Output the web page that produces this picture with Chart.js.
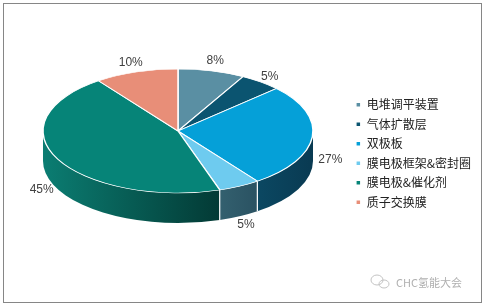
<!DOCTYPE html>
<html>
<head>
<meta charset="utf-8">
<script src="https://cdn.jsdelivr.net/npm/chart.js@4/dist/chart.umd.min.js"></script>
<style>
  html, body { margin: 0; padding: 0; background: #fff; }
  #wrap { width: 487px; height: 307px; position: relative; }
</style>
</head>
<body>
<div id="wrap"><canvas id="c" width="487" height="307"></canvas></div>
<script>
// Cost breakdown of a fuel cell stack
const categories = ['电堆调平装置', '气体扩散层', '双极板', '膜电极框架&密封圈', '膜电极&催化剂', '质子交换膜'];
const shares = [8, 5, 27, 5, 45, 10];
const topColors = ['#5a8fa3', '#0b5470', '#05a0d8', '#6ecbef', '#068478', '#e88e78'];
const sideLight = ['#416e80', '#083f55', '#0b4862', '#33606f', '#0b7d72', '#b06a58'];
const sideDark  = ['#2f5868', '#06364a', '#093a52', '#2a5262', '#033a35', '#8a5242'];

// 3D look: the pie is squashed into an ellipse and given a thick front wall
const TILT = 62 / 135;   // vertical squash of the top face
const DEPTH = 30;        // wall thickness in px
const CX = 178, CY = 131;

const pie3d = {
  id: 'pie3d',
  beforeDraw(chart) {
    const ctx = chart.ctx;
    ctx.save();
    ctx.fillStyle = '#fff';
    ctx.fillRect(0, 0, chart.width, chart.height);
    ctx.strokeStyle = '#868686';
    ctx.lineWidth = 1;
    ctx.strokeRect(3.5, 3.5, 478, 299);
    ctx.restore();
  },
  beforeDatasetsDraw(chart) {
    const ctx = chart.ctx;
    const arcs = chart.getDatasetMeta(0).data;
    const R = arcs[0].outerRadius;
    const ry = R * TILT;
    // front walls, only the part facing the viewer (canvas angle 0..PI)
    arcs.forEach((a, i) => {
      const s = Math.max(a.startAngle, 0);
      const e = Math.min(a.endAngle, Math.PI);
      if (e <= s) return;
      const xr = CX + R * Math.cos(s);
      const xl = CX + R * Math.cos(e);
      const g = ctx.createLinearGradient(xl, 0, xr, 0);
      g.addColorStop(0, sideLight[i]);
      g.addColorStop(1, sideDark[i]);
      ctx.save();
      ctx.beginPath();
      ctx.ellipse(CX, CY, R, ry, 0, s, e, false);
      ctx.ellipse(CX, CY + DEPTH, R, ry, 0, e, s, true);
      ctx.closePath();
      ctx.fillStyle = g;
      ctx.fill();
      ctx.restore();
    });
    // white seams between the walls
    ctx.save();
    ctx.strokeStyle = '#fff';
    ctx.lineWidth = 1.2;
    arcs.forEach(a => {
      const ang = a.endAngle;
      if (ang > 0 && ang < Math.PI) {
        const x = CX + R * Math.cos(ang);
        const y = CY + ry * Math.sin(ang);
        ctx.beginPath();
        ctx.moveTo(x, y);
        ctx.lineTo(x, y + DEPTH);
        ctx.stroke();
      }
    });
    ctx.restore();
    // top face: let the library draw its arcs inside a squashed frame
    const ex = arcs[0].x, ey = arcs[0].y;
    ctx.save();
    ctx.translate(CX, CY);
    ctx.scale(1, TILT);
    ctx.translate(-ex, -ey);
  },
  afterDatasetsDraw(chart) {
    const ctx = chart.ctx;
    ctx.restore();
    const arcs = chart.getDatasetMeta(0).data;
    const R = arcs[0].outerRadius;
    const ry = R * TILT;
    ctx.save();
    ctx.font = '12px "Liberation Sans", Arial, sans-serif';
    ctx.fillStyle = '#404040';
    ctx.textAlign = 'center';
    ctx.textBaseline = 'middle';
    arcs.forEach((a, i) => {
      const m = (a.startAngle + a.endAngle) / 2;
      const txt = shares[i] + '%';
      const hw = ctx.measureText(txt).width / 2;
      const sn = Math.sin(m);
      const x = CX + (R + 6 + hw) * Math.cos(m);
      // labels in front sit a little lower, beside the wall
      const drop = sn > 0 ? 6 * (1 - sn) : 0;
      const y = CY + DEPTH / 2 + (ry + DEPTH / 2 + 11) * sn + drop;
      ctx.fillText(txt, x, y);
    });
    // source mark
    ctx.strokeStyle = '#c4c4c4';
    ctx.lineWidth = 1;
    ctx.beginPath();
    ctx.ellipse(377, 280, 6, 5, 0, 0, Math.PI * 2);
    ctx.stroke();
    ctx.beginPath();
    ctx.ellipse(384, 284, 5, 4, 0, 0, Math.PI * 2);
    ctx.stroke();
    ctx.fillStyle = '#b0b0b0';
    ctx.textAlign = 'left';
    ctx.font = '11px "Noto Sans CJK SC", sans-serif';
    ctx.fillText('CHC氢能大会', 396, 283);
    ctx.restore();
  }
};

new Chart(document.getElementById('c'), {
  type: 'pie',
  data: {
    labels: categories,
    datasets: [{
      data: shares,
      backgroundColor: topColors,
      borderColor: '#ffffff',
      borderWidth: 1.5,
      radius: 135,
      clip: false
    }]
  },
  options: {
    responsive: false,
    animation: false,
    layout: { padding: { right: 6 } },
    plugins: {
      tooltip: { enabled: false },
      legend: {
        position: 'right',
        align: 'center',
        labels: {
          boxWidth: 5,
          boxHeight: 5,
          padding: 7.5,
          color: '#222',
          font: { family: '"Noto Sans CJK SC", sans-serif', size: 12 }
        }
      }
    }
  },
  plugins: [pie3d]
});
</script>
</body>
</html>
